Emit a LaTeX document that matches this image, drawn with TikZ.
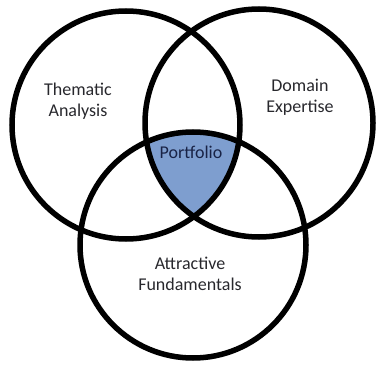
\documentclass[tikz,border=0pt]{standalone}
\usepackage{fontspec}
\setmainfont{Carlito}
\definecolor{ringc}{RGB}{0,0,0}
\definecolor{fillc}{RGB}{126,158,207}
\definecolor{txtc}{RGB}{40,40,45}
\definecolor{ptxt}{RGB}{25,35,70}
\begin{document}
\begin{tikzpicture}[x=1pt,y=-1pt,
  ring/.style={draw=ringc,line width=5.5pt},
  lbl/.style={align=center,font=\fontsize{18}{21}\selectfont,text=txtc}]
\useasboundingbox (0,0) rectangle (382,366);
% centres
\coordinate (cL) at (126,125);
\coordinate (cR) at (259,123);
\coordinate (cB) at (193,245);
% shaded common region
\begin{scope}
  \clip (cL) circle (114);
  \clip (cR) circle (114);
  \fill[fillc] (cB) circle (113);
\end{scope}
\draw[ring] (cL) circle (114);
\draw[ring] (cR) circle (114);
\draw[ring] (cB) circle (113);
\node[lbl] (thematic) at (78,101) {Thematic\\Analysis};
\node[lbl] (domain) at (300,97) {Domain\\Expertise};
\node[lbl,text=ptxt] (portfolio) at (191,152) {Portfolio};
\node[lbl] (attractive) at (190,274) {Attractive\\Fundamentals};
\end{tikzpicture}
\end{document}
